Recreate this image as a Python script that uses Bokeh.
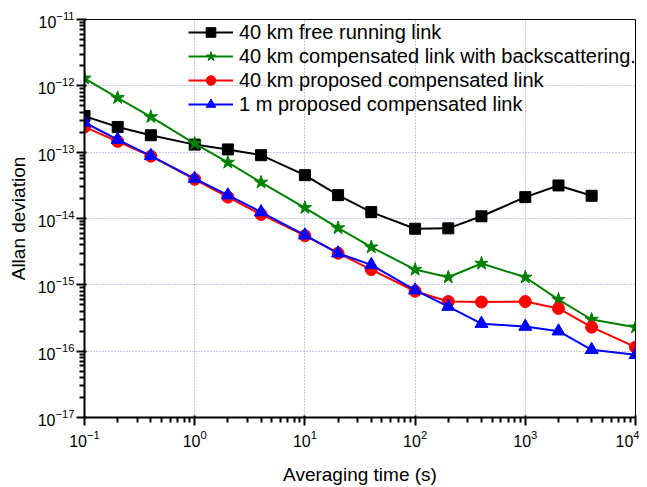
from bokeh.plotting import figure
from bokeh.models import Legend, LegendItem, FixedTicker
from bokeh.embed import file_html
from bokeh.resources import INLINE

tau = [0.1, 0.2, 0.4, 1, 2, 4, 10, 20, 40, 100, 200, 400, 1000, 2000, 4000, 10000]
tau_free = tau[:15]
free_running = [3.5e-13, 2.4e-13, 1.8e-13, 1.3e-13, 1.1e-13, 9.0e-14, 4.5e-14, 2.25e-14,
                1.25e-14, 7.0e-15, 7.1e-15, 1.08e-14, 2.1e-14, 3.15e-14, 2.2e-14]
backscatter = [1.3e-12, 6.6e-13, 3.4e-13, 1.35e-13, 7.0e-14, 3.5e-14, 1.45e-14, 7.2e-15,
               3.7e-15, 1.7e-15, 1.3e-15, 2.1e-15, 1.3e-15, 6.0e-16, 3.0e-16, 2.3e-16]
proposed_40km = [2.4e-13, 1.45e-13, 8.7e-14, 3.9e-14, 2.1e-14, 1.15e-14, 5.5e-15, 3.0e-15,
                 1.7e-15, 8.0e-16, 5.6e-16, 5.5e-16, 5.6e-16, 4.4e-16, 2.3e-16, 1.15e-16]
proposed_1m = [2.8e-13, 1.55e-13, 8.8e-14, 4.0e-14, 2.25e-14, 1.25e-14, 5.6e-15, 3.0e-15,
               2.0e-15, 8.3e-16, 4.7e-16, 2.6e-16, 2.35e-16, 2.0e-16, 1.05e-16, 8.8e-17]

labels = ["40 km free running link",
          "40 km compensated link with backscattering.",
          "40 km proposed compensated link",
          "1 m proposed compensated link"]

x_exponents = [-1, 0, 1, 2, 3, 4]
y_exponents = [-17, -16, -15, -14, -13, -12, -11]
minor_mults = [2, 3, 4, 5, 6, 7, 8, 9]

FONT = "Liberation Sans"

p = figure(x_axis_type="log", y_axis_type="log",
           x_range=(0.1, 1e4), y_range=(1e-17, 1e-11),
           width=639, height=487,
           min_border_left=84, min_border_right=4, min_border_top=19, min_border_bottom=67,
           output_backend="svg", toolbar_location=None)

p.outline_line_color = "black"

xmaj = [10.0 ** e for e in x_exponents]
ymaj = [10.0 ** e for e in y_exponents]
xmin = [m * 10.0 ** e for e in x_exponents[:-1] for m in minor_mults]
ymin = [m * 10.0 ** e for e in y_exponents[:-1] for m in minor_mults]
p.xaxis.ticker = FixedTicker(ticks=xmaj, minor_ticks=xmin)
p.yaxis.ticker = FixedTicker(ticks=ymaj, minor_ticks=ymin)

p.xgrid.grid_line_color = "#9090c8"
p.ygrid.grid_line_color = "#9090c8"
p.xgrid.grid_line_dash = "1 2"
p.ygrid.grid_line_dash = "1 2"
p.xgrid.ticker = FixedTicker(ticks=xmaj)
p.ygrid.ticker = FixedTicker(ticks=ymaj)

p.xaxis.axis_line_color = "black"
p.yaxis.axis_line_color = "black"
p.xaxis.axis_line_width = 2
p.yaxis.axis_line_width = 2
p.xaxis.major_tick_out = 8
p.yaxis.major_tick_out = 8
p.xaxis.minor_tick_out = 5
p.yaxis.minor_tick_out = 5
p.xaxis.major_tick_line_color = "black"
p.yaxis.major_tick_line_color = "black"
p.xaxis.major_tick_line_width = 2
p.yaxis.major_tick_line_width = 2
p.xaxis.minor_tick_line_color = "black"
p.yaxis.minor_tick_line_color = "black"
p.xaxis.minor_tick_line_width = 2
p.yaxis.minor_tick_line_width = 2
p.xaxis.major_label_text_font_size = "16px"
p.yaxis.major_label_text_font_size = "16px"
p.xaxis.major_label_text_color = "black"
p.yaxis.major_label_text_color = "black"
p.xaxis.axis_label_text_font_size = "19px"
p.yaxis.axis_label_text_font_size = "19px"
p.xaxis.axis_label_text_font_style = "normal"
p.yaxis.axis_label_text_font_style = "normal"
p.xaxis.axis_label_text_color = "black"
p.yaxis.axis_label_text_color = "black"

p.xaxis.axis_label = "Averaging time (s)"
p.yaxis.axis_label = "Allan deviation"
p.xaxis.axis_label_standoff = 14
p.yaxis.axis_label_standoff = 6
p.xaxis.major_label_standoff = 4
p.yaxis.major_label_standoff = 2

series = [
    (tau_free, free_running, "black", "square", 11),
    (tau, backscatter, "green", "star", 14),
    (tau, proposed_40km, "red", "circle", 12),
    (tau, proposed_1m, "blue", "triangle", 13),
]

items = []
for (xs, ys, color, marker, size), lab in zip(series, labels):
    lr = p.line(xs, ys, line_color=color, line_width=2)
    sr = p.scatter(xs, ys, marker=marker, size=size, fill_color=color,
                   line_color=color, line_width=1)
    items.append(LegendItem(label=lab, renderers=[lr, sr]))

legend = Legend(items=items, location=(104, 301),
                background_fill_color=None, border_line_color=None,
                padding=0, margin=0, spacing=0,
                glyph_width=45, glyph_height=24, label_height=24,
                label_standoff=6,
                label_text_font=FONT, label_text_font_size="20px",
                label_text_color="black")
p.add_layout(legend)

open("out.html", "w").write(file_html(p, INLINE))
